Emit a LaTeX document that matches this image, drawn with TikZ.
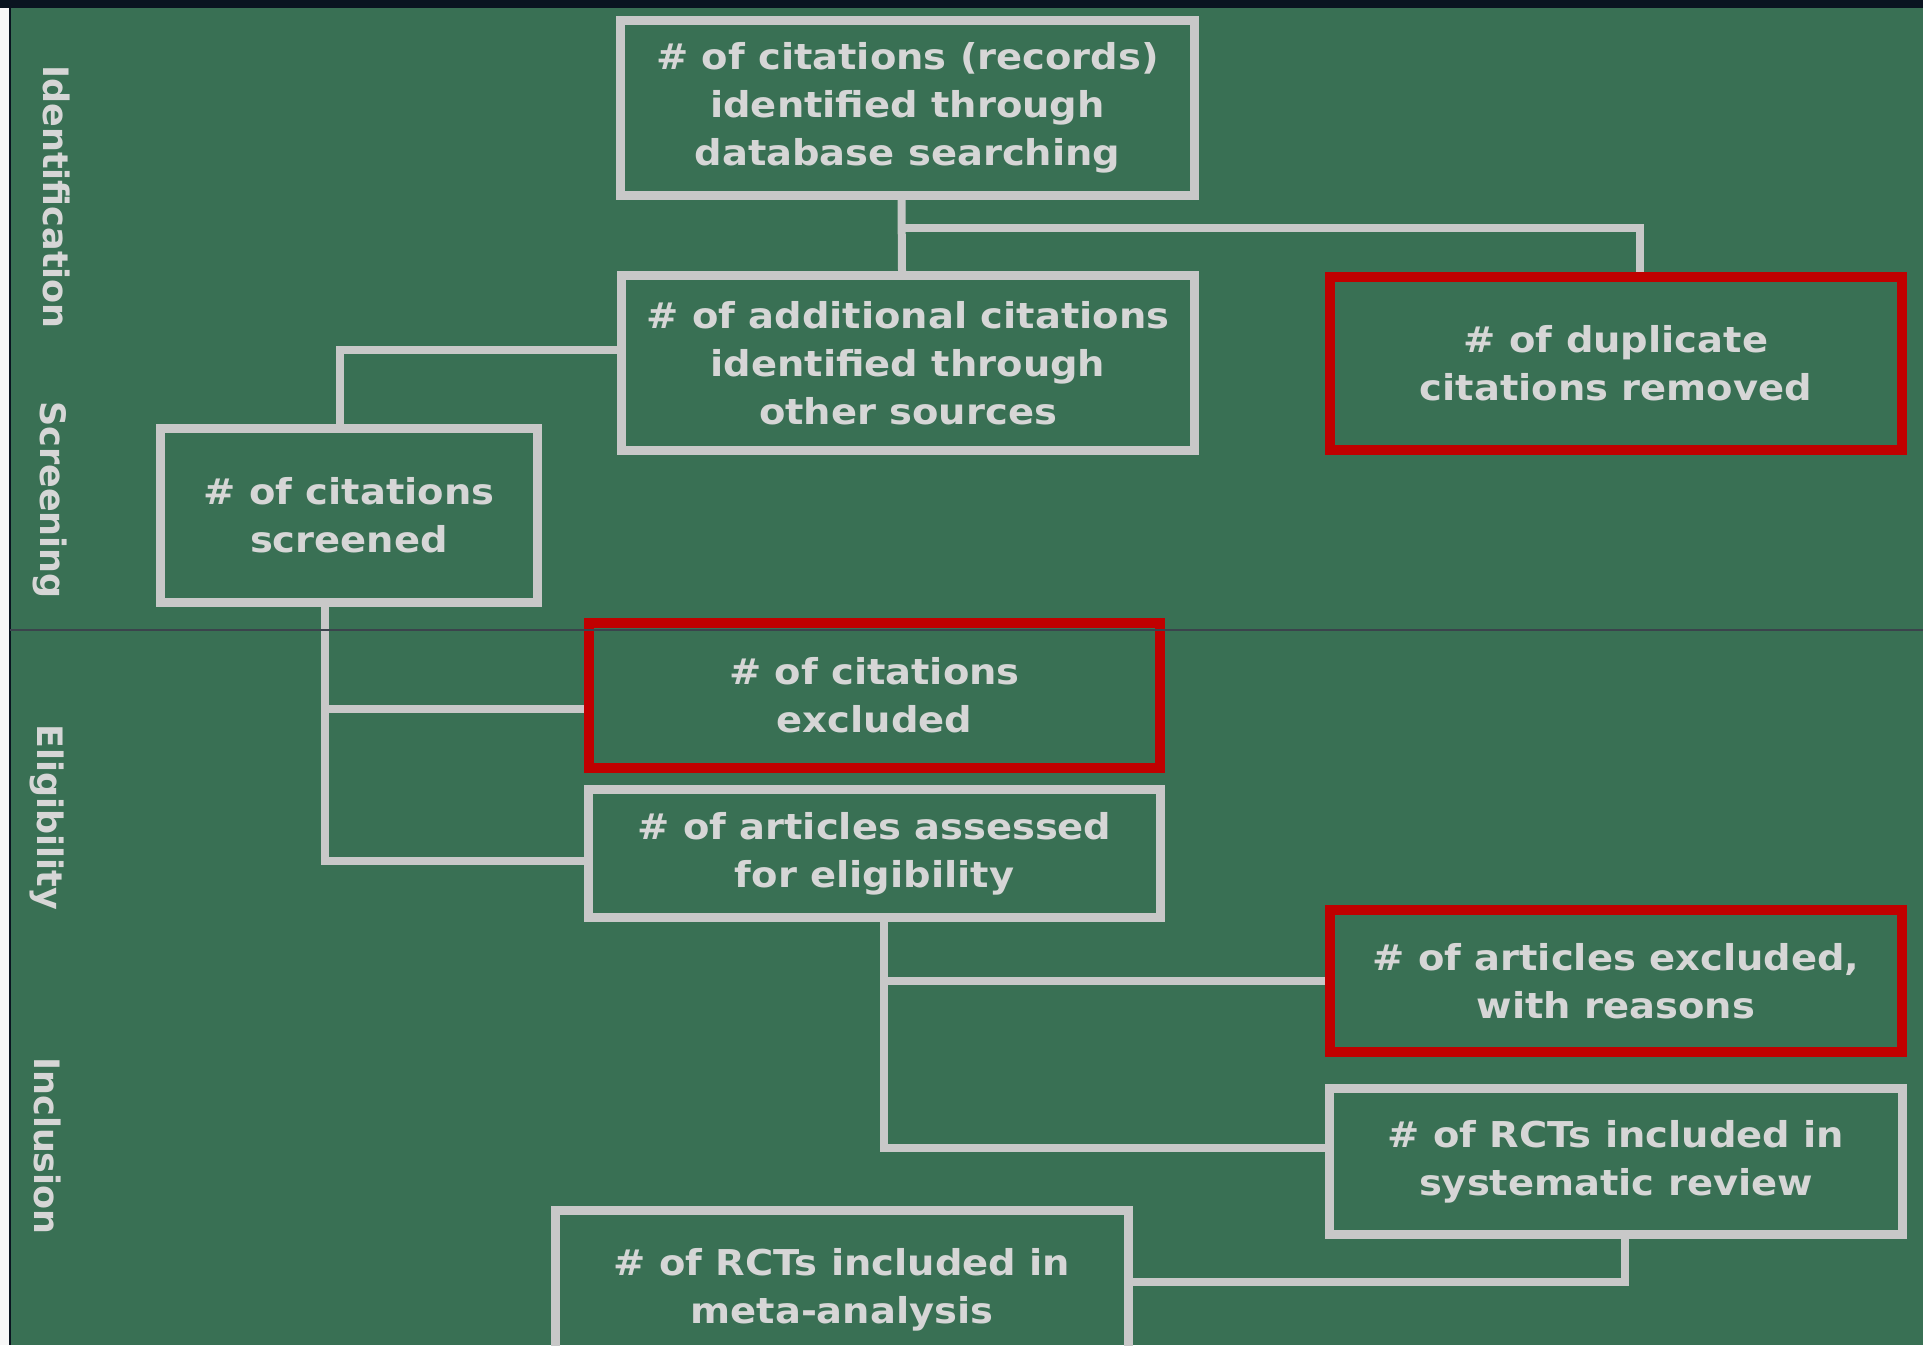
\documentclass[tikz,border=0pt]{standalone}
\usepackage{fontspec}
\setmainfont{DejaVu Sans}
\newfontfamily\boxfont{DejaVu Sans}[FakeStretch=1.08]
\usetikzlibrary{backgrounds,calc}
\definecolor{boardgreen}{HTML}{397054}
\definecolor{boxgray}{HTML}{C8C8C8}
\definecolor{textgray}{HTML}{D6D6D6}
\definecolor{flagred}{HTML}{C00000}
\definecolor{topband}{HTML}{0A1420}
\tikzset{
  stagebox/.style={draw=boxgray, line width=4.5pt, align=center, text=textgray,
    font=\boxfont\bfseries\fontsize{17.8}{24}\selectfont, inner sep=0pt},
  dropbox/.style={stagebox, draw=flagred, line width=5pt},
  link/.style={draw=boxgray, line width=4pt},
  phase/.style={rotate=-90, text=textgray, font=\bfseries\fontsize{17.5}{20}\selectfont}
}
\begin{document}
\begin{tikzpicture}[x=0.5pt,y=-0.5pt]
\useasboundingbox (0,0) rectangle (1923,1345);
\begin{scope}[on background layer]
  \fill[white!94!gray] (0,0) rectangle (1923,1345);
  \fill[boardgreen] (10,8) rectangle (1923,1345);
  \fill[topband] (0,0) rectangle (1923,8);
  \draw[topband, line width=0.6pt] (10,8) -- (10,1345);
\end{scope}
% phases
\node (ident)  at (57,197)  [phase] {Identification};
\node (screen) at (50,500)  [phase] {Screening};
\node (elig)   at (47,817)  [phase] {Eligibility};
\node (incl)   at (48,1146) [phase] {Inclusion};
% boxes
\node (db)       at (907.5,108)  [stagebox, minimum width=287pt, minimum height=87.5pt] {\# of citations (records)\\identified through\\database searching};
\node (other)    at (908,363)    [stagebox, minimum width=286.5pt, minimum height=87.5pt] {\# of additional citations\\identified through\\other sources};
\node (dup)      at (1616,363.5) [dropbox, minimum width=286pt, minimum height=86.5pt] {\# of duplicate\\citations removed};
\node (screened) at (349,515.5)  [stagebox, minimum width=188.5pt, minimum height=87pt] {\# of citations\\screened};
\node (excl)     at (874.5,695.5) [dropbox, minimum width=285.5pt, minimum height=72.5pt] {\# of citations\\excluded};
\node (assessed) at (874.5,853.5) [stagebox, minimum width=286pt, minimum height=64pt] {\# of articles assessed\\for eligibility};
\node (artexcl)  at (1616,981)   [dropbox, minimum width=286pt, minimum height=71pt] {\# of articles excluded,\\with reasons};
\node (rctsys)   at (1616,1161.5) [stagebox, minimum width=286.5pt, minimum height=73pt] {\# of RCTs included in\\systematic review};
\node (rctmeta)  at (842,1290)   [stagebox, minimum width=286.5pt, minimum height=79.5pt] {\# of RCTs included in\\meta-analysis};
% links
\begin{scope}[on background layer]
  \draw[link] ($(db.south)+(-6,0)$) -- ($(other.north)+(-6,0)$);
  \draw[link] ($(db.south)+(-6,28)$) -| ($(dup.north)+(24,0)$);
  \draw[link] ($(other.west)+(0,-13)$) -| ($(screened.north)+(-9,0)$);
  \draw[link] ($(screened.south)+(-24,0)$) |- ($(assessed.west)+(0,7)$);
  \draw[link] ($(excl.west)+(0,13)$) -| ($(screened.south)+(-24,0)$);
  \draw[link] ($(assessed.south)+(9,0)$) |- ($(rctsys.west)+(0,-14)$);
  \draw[link] (artexcl.west) -| ($(assessed.south)+(9,0)$);
  \draw[link] ($(rctsys.south)+(9,0)$) |- ($(rctmeta.east)+(0,-8)$);
\end{scope}
\draw[topband!80, line width=0.6pt] (10,630) -- (1923,630);
\end{tikzpicture}
\end{document}
